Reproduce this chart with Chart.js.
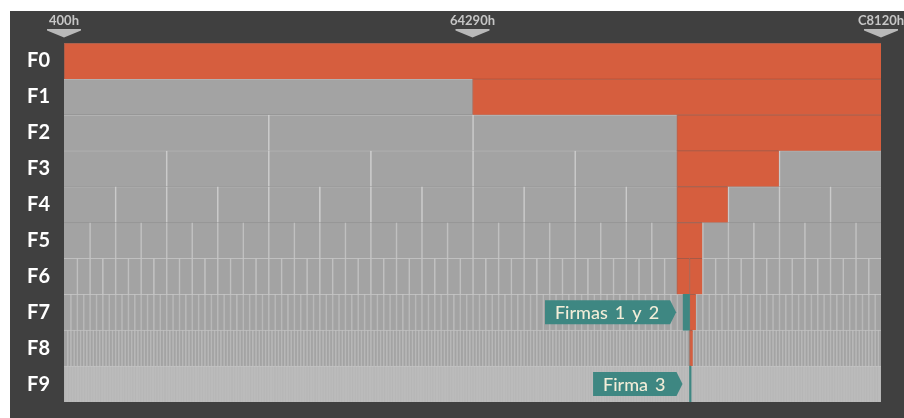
<!DOCTYPE html>
<html>
<head>
<meta charset="utf-8">
<script src="https://cdn.jsdelivr.net/npm/chart.js@4.4.1/dist/chart.umd.min.js"></script>
<style>
  html, body { margin: 0; padding: 0; background: #fff; }
  .panel { position: absolute; left: 10px; top: 11px; width: 894px; height: 407px; background: #404040; }
</style>
</head>
<body>
<div class="panel"><canvas id="chart"></canvas></div>
<script>
// rows of the tree and how many cells each row is split into
const rows = ['F0', 'F1', 'F2', 'F3', 'F4', 'F5', 'F6', 'F7', 'F8', 'F9'];
const cellCounts = [1, 2, 4, 8, 16, 32, 64, 128, 256, 512];

// marked cells (row + cell index inside that row)
const orangeRows = ['F0', 'F1', 'F2', 'F3', 'F4', 'F5', 'F6', 'F6', 'F7', 'F8'];
const orangeCells = [0, 1, 3, 6, 12, 24, 48, 49, 98, 196];
const tealRows = ['F7', 'F9'];
const tealCells = [97, 392];
const noteTexts = ['Firmas 1 y 2', 'Firma 3'];

// address axis
const tickValues = [0, 0.5, 1];
const tickLabels = ['400h', '64290h', 'C8120h'];

function cellRange(row, cell) {
    const n = cellCounts[rows.indexOf(row)];
    return [cell / n, (cell + 1) / n];
}

const rowData = rows.map(r => ({ x: [0, 1], y: r }));
const gridCells = [];
rows.forEach((row, i) => {
    for (let c = 1; c < cellCounts[i]; c++) {
        gridCells.push({ x: cellRange(row, c), y: row });
    }
});
const orangeData = orangeRows.map((r, i) => ({ x: cellRange(r, orangeCells[i]), y: r }));
const tealData = tealRows.map((r, i) => ({ x: cellRange(r, tealCells[i]), y: r }));

function lineColor(ctx) {
    const i = ctx.raw ? rows.indexOf(ctx.raw.y) : 0;
    if (i === 9) return 'rgba(205,205,205,0.3)';
    if (i >= 7) return 'rgba(210,210,210,0.45)';
    if (i >= 5) return 'rgba(212,212,212,0.6)';
    return 'rgba(215,215,215,0.75)';
}

const axisMarks = {
    id: 'axisMarks',
    afterDraw(chart) {
        const ctx = chart.ctx;
        const x = chart.scales.x;
        ctx.save();
        ctx.fillStyle = '#b9b9b9';
        tickValues.forEach(v => {
            const cx = x.getPixelForValue(v);
            ctx.beginPath();
            ctx.moveTo(cx - 17, 18);
            ctx.lineTo(cx + 17, 18);
            ctx.lineTo(cx + 17, 19.5);
            ctx.lineTo(cx, 26.5);
            ctx.lineTo(cx - 17, 19.5);
            ctx.closePath();
            ctx.fill();
        });
        ctx.restore();
    }
};

const notes = {
    id: 'notes',
    afterDatasetsDraw(chart) {
        const ctx = chart.ctx;
        const meta = chart.getDatasetMeta(3);
        ctx.save();
        ctx.font = '500 18px Lato';
        ctx.wordSpacing = '2.5px';
        noteTexts.forEach((text, i) => {
            const bar = meta.data[i];
            const left = Math.min(bar.x, bar.base);
            const cy = bar.y;
            const w = ctx.measureText(text).width;
            const right = left - 7, tip = 6, h = 24;
            const l = right - tip - 21 - w;
            ctx.beginPath();
            ctx.moveTo(l, cy - h / 2);
            ctx.lineTo(right - tip, cy - h / 2);
            ctx.lineTo(right, cy);
            ctx.lineTo(right - tip, cy + h / 2);
            ctx.lineTo(l, cy + h / 2);
            ctx.closePath();
            ctx.fillStyle = '#3e8782';
            ctx.fill();
            ctx.fillStyle = '#f2edd8';
            ctx.textBaseline = 'middle';
            ctx.fillText(text, l + 10, cy + 1);
        });
        ctx.restore();
    }
};

new Chart(document.getElementById('chart'), {
    type: 'bar',
    data: {
        labels: rows,
        datasets: [{
            label: 'Fila',
            data: rowData,
            backgroundColor: ctx => (ctx.raw && ctx.raw.y === 'F9') ? '#b4b4b4' : '#a3a3a3',
            borderColor: '#c0c0c0',
            borderWidth: { left: 0, top: 1, right: 0, bottom: 0 },
            borderSkipped: false,
            order: 3
        }, {
            label: 'Celdas',
            data: gridCells,
            backgroundColor: 'rgba(0,0,0,0)',
            borderColor: lineColor,
            borderWidth: { left: 1, top: 0, right: 0, bottom: 0 },
            borderSkipped: false,
            order: 2
        }, {
            label: 'Rango',
            data: orangeData,
            backgroundColor: '#d65e3e',
            borderColor: 'rgba(150,62,40,0.7)',
            borderWidth: { left: 1, top: 1, right: 0, bottom: 0 },
            borderSkipped: false,
            order: 1
        }, {
            label: 'Firmas',
            data: tealData,
            backgroundColor: '#3e8782',
            borderWidth: 0,
            order: 0
        }]
    },
    options: {
        indexAxis: 'y',
        responsive: true,
        maintainAspectRatio: false,
        animation: false,
        events: [],
        datasets: { bar: { grouped: false, categoryPercentage: 1, barPercentage: 1 } },
        layout: { padding: { left: 0, right: 23, top: 0, bottom: 16 } },
        plugins: { legend: { display: false }, tooltip: { enabled: false } },
        scales: {
            x: {
                type: 'linear',
                position: 'top',
                min: 0,
                max: 1,
                grid: { display: false, drawTicks: false },
                border: { display: false },
                afterBuildTicks: s => { s.ticks = tickValues.map(v => ({ value: v })); },
                ticks: {
                    callback: (v, i) => tickLabels[i],
                    color: '#c6c6c6',
                    font: { family: 'Lato', weight: 'bold', size: 13 },
                    padding: 14,
                    maxRotation: 0,
                    autoSkip: false
                },
                afterFit: s => { s.height = 32; s.paddingLeft = 0; s.paddingRight = 0; }
            },
            y: {
                grid: { display: false, drawTicks: false },
                border: { display: false },
                ticks: {
                    color: '#ffffff',
                    font: { family: 'Lato', weight: 'bold', size: 20 },
                    padding: 14
                },
                afterFit: s => { s.width = 54; s.paddingTop = 0; s.paddingBottom = 0; }
            }
        }
    },
    plugins: [axisMarks, notes]
});
</script>
</body>
</html>
